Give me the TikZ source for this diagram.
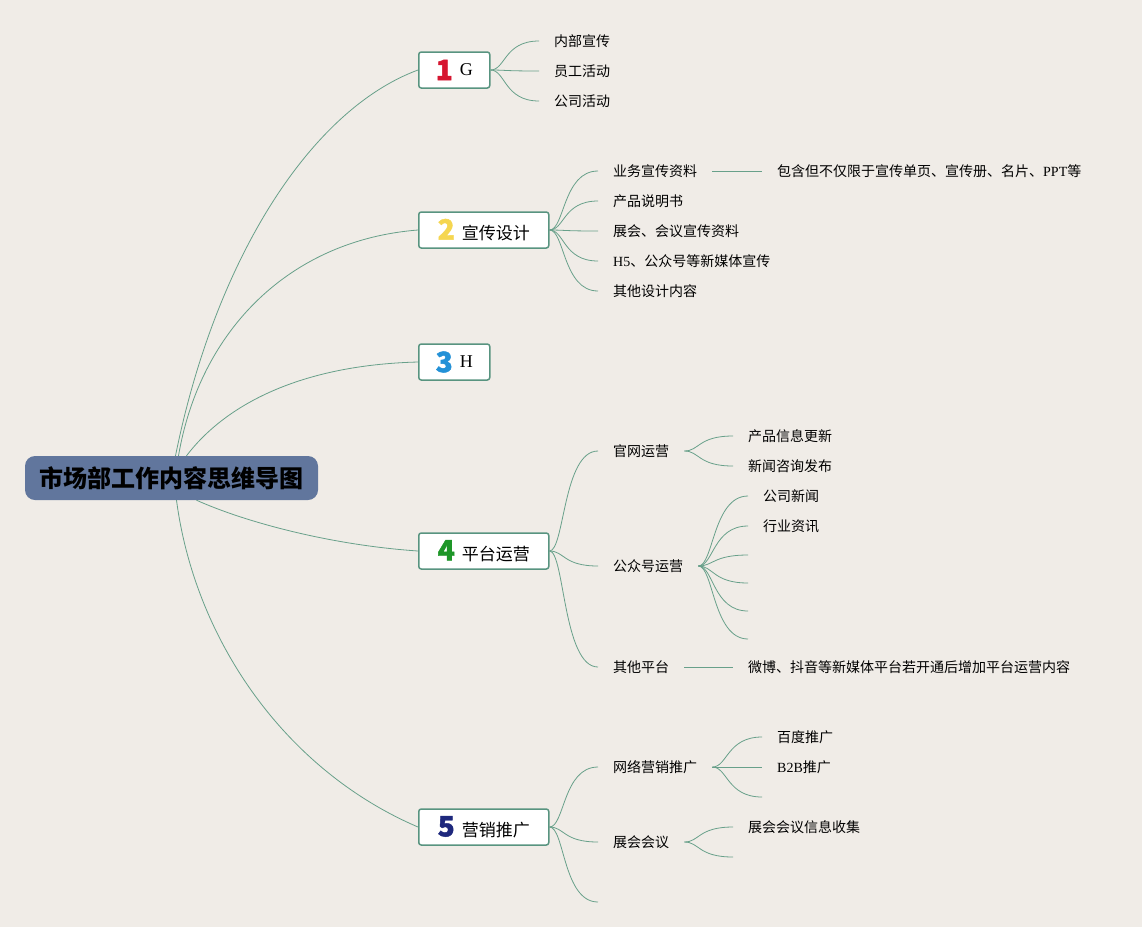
\documentclass[tikz,border=0pt]{standalone}
\usepackage{fontspec}
\setmainfont{Liberation Serif}
\newfontfamily\cjk{Noto Sans CJK SC}
\newfontfamily\numfont[BoldFeatures={FakeBold=1.6}]{Noto Sans CJK SC}
\usepackage{xcolor}
\usetikzlibrary{positioning, calc}

\definecolor{paper}{RGB}{240,236,231}
\definecolor{rootfill}{RGB}{97,118,157}
\definecolor{boxline}{RGB}{88,148,128}
\definecolor{stemcol}{RGB}{104,160,138}
\definecolor{numred}{RGB}{214,22,48}
\definecolor{numyellow}{RGB}{245,214,80}
\definecolor{numblue}{RGB}{35,145,215}
\definecolor{numgreen}{RGB}{30,150,40}
\definecolor{numnavy}{RGB}{30,40,125}

% coloured number in front of a branch title
\newcommand{\numtag}[2]{{\numfont\bfseries\fontsize{28}{28}\selectfont\color{#1}#2}\hspace{7pt}}
% single latin letter as title
\newcommand{\lettertag}[1]{\raisebox{5pt}{\rmfamily\fontsize{18}{18}\selectfont #1}}

\begin{document}
\begin{tikzpicture}[
    x=1pt, y=-1pt,
    root/.style={fill=rootfill, rounded corners=10pt, minimum width=293pt, minimum height=44pt, inner sep=0pt, font=\cjk\bfseries\fontsize{24}{24}\selectfont},
    branch/.style={draw=boxline, line width=1.5pt, fill=white, rounded corners=2.5pt, minimum height=36pt, inner sep=0pt, anchor=west, font=\cjk\fontsize{17}{17}\selectfont},
    leaf/.style={anchor=west, inner xsep=15pt, inner ysep=0pt, font=\cjk\fontsize{14}{14}\selectfont},
    limb/.style={draw=stemcol, line width=0.8pt},
    twig/.style={draw=stemcol, line width=0.8pt}
]

\fill[paper] (0,0) rectangle (1142,927);

% --- Central topic ---
\node[root] (root) at (171.5,478) {市场部工作内容思维导图};

% --- Main branches ---
\node[branch, minimum width=71pt] (b1) at (418,70) {\numtag{numred}{1}\lettertag{G}};
\node[branch, minimum width=130pt] (b2) at (418,230) {\numtag{numyellow}{2}宣传设计};
\node[branch, minimum width=71pt] (b3) at (418,362) {\numtag{numblue}{3}\lettertag{H}};
\node[branch, minimum width=130pt] (b4) at (418,551) {\numtag{numgreen}{4}平台运营};
\node[branch, minimum width=130pt] (b5) at (418,827) {\numtag{numnavy}{5}营销推广};

\draw[limb] ([xshift=4pt]root.north) .. controls (215,260) and (310,110) .. (b1.west);
\draw[limb] ([xshift=7pt]root.north) .. controls (200,330) and (290,240) .. (b2.west);
\draw[limb] ([xshift=15pt]root.north) .. controls (225,405) and (300,365) .. (b3.west);
\draw[limb] ([xshift=25pt]root.south) .. controls (245,522) and (330,545) .. (b4.west);
\draw[limb] ([xshift=5pt]root.south) .. controls (195,640) and (285,770) .. (b5.west);

% 1 G
\node[leaf] (c11) at (539,41) {内部宣传};
\node[leaf] (c12) at (539,71) {员工活动};
\node[leaf] (c13) at (539,101) {公司活动};
\foreach \t in {c11,c12,c13}
    \draw[twig] (b1.east) .. controls +(15,0) and +(-35,0) .. (\t.west);

% 2 宣传设计
\node[leaf] (c21) at (598,171) {业务宣传资料};
\node[leaf] (c22) at (598,201) {产品说明书};
\node[leaf] (c23) at (598,231) {展会、会议宣传资料};
\node[leaf] (c24) at (598,261) {{\rmfamily H5}、公众号等新媒体宣传};
\node[leaf] (c25) at (598,291) {其他设计内容};
\node[leaf] (d21) at (762,171) {包含但不仅限于宣传单页、宣传册、名片、{\rmfamily PPT}等};
\foreach \t in {c21,c22,c23,c24,c25}
    \draw[twig] (b2.east) .. controls +(15,0) and +(-35,0) .. (\t.west);
\draw[twig] (c21.east) -- (d21.west);

% 4 平台运营
\node[leaf] (c41) at (598,451) {官网运营};
\node[leaf] (c42) at (598,566) {公众号运营};
\node[leaf] (c43) at (598,667) {其他平台};
\foreach \t in {c41,c42,c43}
    \draw[twig] (b4.east) .. controls +(15,0) and +(-35,0) .. (\t.west);

\node[leaf] (c411) at (733,436) {产品信息更新};
\node[leaf] (c412) at (733,466) {新闻咨询发布};
\foreach \t in {c411,c412}
    \draw[twig] (c41.east) .. controls +(15,0) and +(-35,0) .. (\t.west);

\node[leaf] (c421) at (748,496) {公司新闻};
\node[leaf] (c422) at (748,526) {行业资讯};
\coordinate (e423) at (748,555);
\coordinate (e424) at (748,583);
\coordinate (e425) at (748,611);
\coordinate (e426) at (748,639);
\foreach \t in {c421.west,c422.west,e423,e424,e425,e426}
    \draw[twig] (c42.east) .. controls +(15,0) and +(-35,0) .. (\t);

\node[leaf] (c431) at (733,667) {微博、抖音等新媒体平台若开通后增加平台运营内容};
\draw[twig] (c43.east) -- (c431.west);

% 5 营销推广
\node[leaf] (c51) at (598,767) {网络营销推广};
\node[leaf] (c52) at (598,842) {展会会议};
\coordinate (e53) at (598,902);
\foreach \t in {c51.west,c52.west,e53}
    \draw[twig] (b5.east) .. controls +(15,0) and +(-35,0) .. (\t);

\node[leaf] (c511) at (762,737) {百度推广};
\node[leaf] (c512) at (762,767) {{\rmfamily B2B}推广};
\coordinate (e513) at (762,797);
\foreach \t in {c511.west,c512.west,e513}
    \draw[twig] (c51.east) .. controls +(15,0) and +(-35,0) .. (\t);

\node[leaf] (c521) at (733,827) {展会会议信息收集};
\coordinate (e522) at (733,857);
\foreach \t in {c521.west,e522}
    \draw[twig] (c52.east) .. controls +(15,0) and +(-35,0) .. (\t);

\end{tikzpicture}
\end{document}
